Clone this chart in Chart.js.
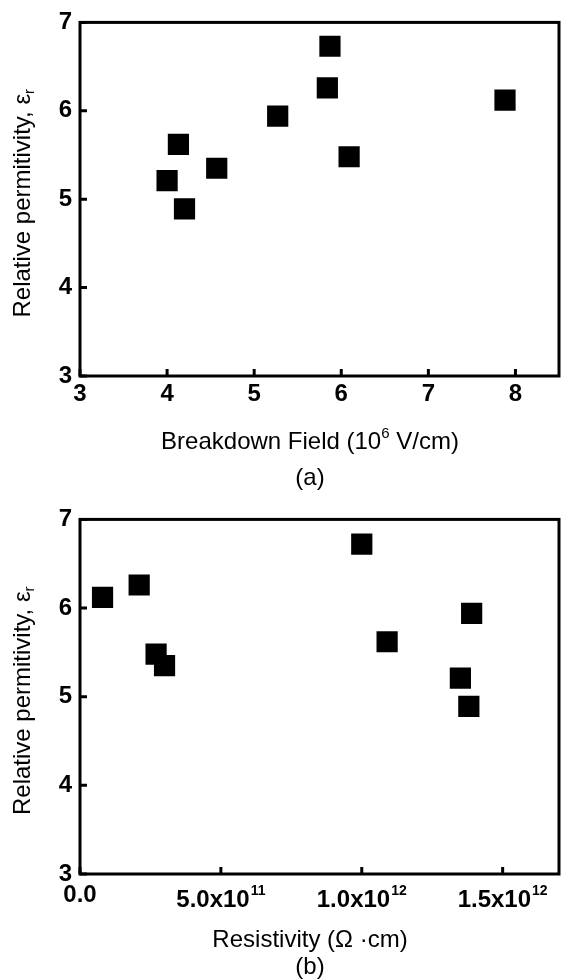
<!DOCTYPE html>
<html>
<head>
<meta charset="utf-8">
<script src="https://cdn.jsdelivr.net/npm/chart.js@4.4.0/dist/chart.umd.min.js"></script>
<style>
  body { margin: 0; background: #fff; }
  .box { position: absolute; left: 0; width: 574px; }
  #boxA { top: 0; height: 497px; }
  #boxB { top: 497px; height: 482px; }
</style>
</head>
<body>
<div class="box" id="boxA"><canvas id="chartA"></canvas></div>
<div class="box" id="boxB"><canvas id="chartB"></canvas></div>
<script>
// (a) breakdown field vs permittivity
const fieldA = [4.00, 4.13, 4.20, 4.57, 5.27, 5.84, 5.87, 6.09, 7.88];
const epsA   = [5.21, 5.62, 4.89, 5.35, 5.94, 6.26, 6.73, 5.48, 6.12];

// (b) resistivity vs permittivity
const resB = [0.08e12, 0.21e12, 0.27e12, 0.30e12, 1.00e12, 1.09e12, 1.35e12, 1.38e12, 1.39e12];
const epsB = [6.12, 6.26, 5.48, 5.35, 6.72, 5.62, 5.21, 4.89, 5.94];

// ticks ('^' marks the exponent)
const ticksXA = [3, 4, 5, 6, 7, 8];
const ticksXB = [0, 0.5e12, 1.0e12, 1.5e12];
const labelsXB = ['0.0', '5.0x10^11', '1.0x10^12', '1.5x10^12'];
const ticksY = [3, 4, 5, 6, 7];

const FONT = '"Liberation Sans", Arial, sans-serif';
Chart.defaults.font.family = FONT;
Chart.defaults.color = '#000';

// draws text pieces, some of them raised or lowered, centred on cx
function richText(ctx, parts, cx, cy, size) {
  const small = Math.round(size * 0.62);
  ctx.textBaseline = 'middle';
  ctx.textAlign = 'left';
  let w = 0;
  parts.forEach(p => {
    ctx.font = (p.sup || p.sub ? small : size) + 'px ' + FONT;
    w += ctx.measureText(p.t).width;
  });
  let x = cx - w / 2;
  parts.forEach(p => {
    let s = size, dy = 0;
    if (p.sup) { s = small; dy = -size * 0.32; }
    if (p.sub) { s = small; dy = size * 0.28; }
    ctx.font = s + 'px ' + FONT;
    ctx.fillText(p.t, x, cy + dy);
    x += ctx.measureText(p.t).width;
  });
}

// bold tick label like 5.0x10^11, top aligned under the axis
function tickLabel(ctx, label, cx, top) {
  const [base, exp] = label.split('^');
  ctx.textBaseline = 'alphabetic';
  ctx.textAlign = 'left';
  ctx.font = 'bold 24px ' + FONT;
  const wb = ctx.measureText(base).width;
  ctx.font = 'bold 14px ' + FONT;
  const we = exp ? ctx.measureText(exp).width + 1 : 0;
  const x = cx - (wb + we) / 2;
  const baseY = exp ? top + 33 : top + 28;
  ctx.font = 'bold 24px ' + FONT;
  ctx.fillText(base, x, baseY);
  if (exp) {
    ctx.font = 'bold 14px ' + FONT;
    ctx.fillText(exp, x + wb + 1, top + 21);
  }
}

const framePlugin = {
  id: 'frame',
  afterDraw(chart, args, o) {
    const ctx = chart.ctx, a = chart.chartArea;
    const sx = chart.scales.x, sy = chart.scales.y;
    ctx.save();
    ctx.strokeStyle = '#000';
    ctx.fillStyle = '#000';
    ctx.lineWidth = 3;
    ctx.strokeRect(a.left, a.top, a.right - a.left, a.bottom - a.top);
    // inward ticks
    ctx.beginPath();
    sx.ticks.forEach(t => {
      const px = sx.getPixelForValue(t.value);
      ctx.moveTo(px, a.bottom);
      ctx.lineTo(px, a.bottom - 7);
    });
    sy.ticks.forEach(t => {
      const py = sy.getPixelForValue(t.value);
      ctx.moveTo(a.left, py);
      ctx.lineTo(a.left + 7, py);
    });
    ctx.stroke();
    // x labels with exponents
    if (o.xLabels) {
      sx.ticks.forEach((t, i) => {
        tickLabel(ctx, o.xLabels[i], sx.getPixelForValue(t.value), a.bottom);
      });
    }
    // titles
    richText(ctx, o.xTitle, o.cx, o.xTitleY, 24);
    richText(ctx, [{t: o.caption}], o.cx, o.captionY, 24);
    ctx.translate(o.yTitleX, (a.top + a.bottom) / 2 + 4);
    ctx.rotate(-Math.PI / 2);
    richText(ctx, o.yTitle, 0, 0, 24);
    ctx.restore();
  }
};

const yTitle = [{t: 'Relative permitivity, ε'}, {t: 'r', sub: true}];

function makeChart(id, xs, ys, xMin, xMax, xTicks, xHeight, frameOpts) {
  const pts = xs.map((x, i) => ({x: x, y: ys[i]}));
  return new Chart(document.getElementById(id), {
    type: 'scatter',
    data: {
      datasets: [{
        data: pts,
        pointStyle: 'rect',
        radius: 15,
        hoverRadius: 15,
        backgroundColor: '#000',
        borderWidth: 0
      }]
    },
    options: {
      responsive: true,
      maintainAspectRatio: false,
      animation: false,
      layout: { padding: { top: frameOpts.top, right: 3, left: 0, bottom: 0 } },
      plugins: {
        legend: { display: false },
        tooltip: { enabled: false },
        frame: frameOpts
      },
      scales: {
        x: {
          type: 'linear',
          min: xMin,
          max: xMax,
          grid: { display: false, drawTicks: false },
          border: { display: false },
          afterBuildTicks: s => { s.ticks = xTicks.map(v => ({value: v})); },
          afterFit: s => { s.height = xHeight; },
          ticks: {
            display: !frameOpts.xLabels,
            padding: 4,
            maxRotation: 0,
            font: { size: 24, weight: 'bold' }
          }
        },
        y: {
          min: 3,
          max: 7,
          grid: { display: false, drawTicks: false },
          border: { display: false },
          afterBuildTicks: s => { s.ticks = ticksY.map(v => ({value: v})); },
          afterFit: s => { s.width = 80; },
          ticks: {
            padding: 8,
            font: { size: 24, weight: 'bold' }
          }
        }
      }
    },
    plugins: [framePlugin]
  });
}

makeChart('chartA', fieldA, epsA, 3, 8.5, ticksXA, 121, {
  top: 20,
  cx: 310,
  xTitle: [{t: 'Breakdown Field (10'}, {t: '6', sup: true}, {t: ' V/cm)'}],
  xTitleY: 442,
  caption: '(a)',
  captionY: 478,
  yTitleX: 23,
  yTitle: yTitle
});

makeChart('chartB', resB, epsB, 0, 1.7e12, ticksXB, 105, {
  top: 21,
  cx: 310,
  xLabels: labelsXB,
  xTitle: [{t: 'Resistivity (Ω ·cm)'}],
  xTitleY: 443,
  caption: '(b)',
  captionY: 470,
  yTitleX: 23,
  yTitle: yTitle
});
</script>
</body>
</html>
